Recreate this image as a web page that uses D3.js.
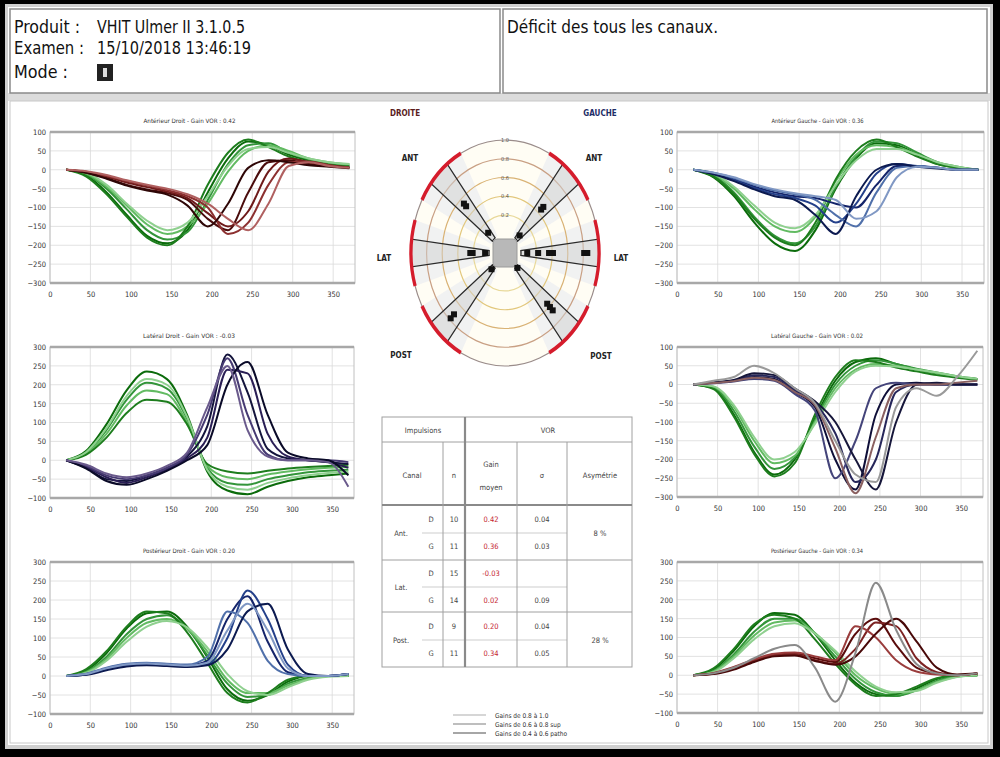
<!DOCTYPE html>
<html>
<head>
<meta charset="utf-8">
<title>vHIT Ulmer - rapport</title>
<script src="https://d3js.org/d3.v7.min.js"></script>
<style>
  body { margin: 0; background: #000; }
  svg { display: block; }
  text { font-family: "Liberation Sans Narrow", "DejaVu Sans Condensed", "Liberation Sans", sans-serif; }
</style>
</head>
<body>
<div id="chart"></div>
<script>
const headerLabels = ["Produit :", "Examen :", "Mode :"];
const headerValues = ["VHIT Ulmer II 3.1.0.5", "15/10/2018 13:46:19", ""];
const conclusion = "Déficit des tous les canaux.";

const chartTitles = [
  "Antérieur Droit - Gain VOR : 0.42", "Latéral Droit - Gain VOR : -0.03", "Postérieur Droit - Gain VOR : 0.20",
  "Antérieur Gauche - Gain VOR : 0.36", "Latéral Gauche - Gain VOR : 0.02", "Postérieur Gauche - Gain VOR : 0.34"
];

const timeMs = [20, 45, 70, 95, 120, 145, 170, 195, 220, 245, 270, 295, 320, 345, 370];
const xTicks = [0, 50, 100, 150, 200, 250, 300, 350];
const yTicksNeg = [100, 50, 0, -50, -100, -150, -200, -250, -300];
const yTicksPos = [300, 250, 200, 150, 100, 50, 0, -50, -100];

// head velocity (green) and eye velocity traces, deg/s
const antDroitHead = [
  [0, -15, -60, -120, -175, -195, -160, -60, 30, 75, 65, 40, 25, 15, 10],
  [0, -12, -50, -105, -160, -185, -165, -80, 15, 65, 70, 45, 28, 18, 12],
  [0, -10, -45, -95, -145, -170, -150, -90, -5, 50, 65, 50, 30, 20, 15],
  [0, -18, -65, -125, -180, -200, -150, -40, 45, 80, 60, 35, 20, 12, 8],
  [0, -8, -40, -90, -135, -160, -140, -70, 10, 55, 60, 45, 30, 20, 15]
];
const antDroitEye = [
  [0, -8, -22, -40, -52, -62, -80, -130, -160, -60, 20, 25, 15, 10, 5],
  [0, -6, -18, -34, -46, -58, -75, -115, -150, -110, -5, 30, 20, 12, 6],
  [0, -5, -16, -30, -42, -54, -70, -100, -170, -140, -40, 20, 22, 12, 5],
  [0, -8, -24, -42, -55, -66, -95, -150, -90, 5, 25, 20, 12, 8, 4],
  [0, -4, -14, -28, -40, -50, -65, -90, -130, -160, -90, 10, 20, 10, 5]
];
const latDroitHead = [
  [0, 25, 95, 185, 235, 215, 120, -30, -80, -90, -70, -55, -45, -40, -35],
  [0, 20, 80, 160, 205, 190, 110, -20, -60, -65, -50, -40, -32, -28, -25],
  [0, 18, 70, 145, 185, 175, 100, -15, -45, -50, -38, -30, -24, -20, -18],
  [0, 15, 60, 125, 160, 155, 95, -10, -30, -35, -28, -22, -18, -15, -12],
  [0, 22, 85, 170, 215, 200, 115, -25, -70, -78, -60, -48, -40, -34, -30]
];
const latDroitEye = [
  [0, -20, -50, -55, -40, -20, 10, 90, 280, 180, 30, 5, 0, -5, -10],
  [0, -18, -45, -60, -45, -25, 5, 60, 240, 230, 70, 10, 0, -5, -20],
  [0, -15, -40, -50, -40, -20, 15, 120, 270, 120, 15, 0, 0, 0, -5],
  [0, -22, -55, -65, -50, -28, 0, 40, 200, 260, 120, 20, 5, 0, -40],
  [0, -12, -35, -45, -35, -15, 20, 140, 250, 80, 10, 0, 0, -5, -70]
];
const postDroitHead = [
  [0, 15, 60, 125, 165, 170, 130, 50, -35, -65, -50, -15, 0, 0, 0],
  [0, 12, 50, 110, 150, 160, 125, 55, -20, -55, -50, -20, -5, 0, 0],
  [0, 10, 45, 100, 140, 150, 125, 65, -10, -45, -45, -25, -8, 0, 0],
  [0, 18, 65, 130, 170, 165, 115, 35, -45, -70, -45, -10, 0, 0, 0],
  [0, 8, 40, 90, 130, 145, 128, 75, 5, -40, -50, -30, -10, -2, 0]
];
const postDroitEye = [
  [0, 5, 20, 30, 32, 30, 28, 40, 150, 210, 90, 10, 0, 0, 5],
  [0, 4, 18, 28, 30, 28, 25, 30, 100, 225, 150, 30, 0, 0, 5],
  [0, 6, 22, 32, 35, 32, 30, 50, 170, 140, 40, 5, 0, 0, 5],
  [0, 3, 15, 25, 28, 26, 24, 28, 70, 170, 190, 70, 5, 0, 5],
  [0, 5, 20, 30, 33, 30, 27, 35, 120, 190, 120, 20, 0, 0, 5]
];
const antGaucheHead = [
  [0, -20, -70, -140, -195, -215, -160, -50, 30, 70, 65, 40, 15, 5, 0],
  [0, -15, -60, -125, -175, -195, -150, -45, 35, 75, 70, 45, 20, 8, 0],
  [0, -12, -50, -105, -150, -165, -125, -30, 40, 65, 60, 40, 18, 6, 0],
  [0, -18, -65, -130, -180, -200, -140, -25, 50, 80, 60, 35, 15, 5, 0],
  [0, -10, -45, -95, -140, -155, -120, -40, 25, 55, 55, 40, 20, 8, 0]
];
const antGaucheEye = [
  [0, -10, -25, -45, -60, -70, -75, -90, -100, -40, 10, 10, 5, 0, 0],
  [0, -10, -28, -48, -65, -75, -95, -140, -90, -10, 15, 10, 5, 0, 0],
  [0, -8, -22, -40, -55, -65, -80, -120, -150, -60, 5, 10, 5, 0, 0],
  [0, -12, -30, -52, -70, -80, -120, -170, -70, 0, 15, 8, 3, 0, 0],
  [0, -8, -20, -38, -52, -62, -70, -80, -130, -110, -20, 8, 5, 0, 0]
];
const latGaucheHead = [
  [0, -10, -80, -180, -240, -200, -90, 10, 60, 70, 55, 40, 30, 20, 15],
  [0, -8, -70, -165, -225, -195, -95, 0, 50, 65, 55, 42, 32, 22, 15],
  [0, -6, -60, -150, -210, -190, -100, -10, 40, 55, 50, 40, 30, 20, 15],
  [0, -12, -85, -185, -245, -210, -80, 20, 65, 60, 45, 35, 25, 18, 12],
  [0, -5, -55, -140, -200, -180, -105, -20, 35, 50, 48, 40, 32, 22, 15]
];
const latGaucheEye = [
  [0, 5, 10, 20, 15, -20, -60, -200, -280, -80, 0, 5, 0, 0, 0],
  [0, 5, 10, 25, 20, -15, -50, -130, -260, -200, -20, 0, 0, 0, 0],
  [0, 3, 8, 15, 10, -25, -70, -250, -150, -10, 5, 0, 0, 0, 0],
  [0, 5, 12, 30, 25, -10, -45, -100, -200, -280, -100, 0, 5, 0, 0],
  [0, 4, 9, 18, 12, -20, -55, -170, -290, -140, -10, 0, 0, 5, 10],
  [0, 10, 20, 50, 30, -10, -50, -150, -240, -260, -60, -10, -30, 20, 90]
];
const postGaucheHead = [
  [0, 15, 65, 130, 165, 160, 110, 40, -20, -50, -55, -35, -10, 0, 0],
  [0, 12, 55, 115, 150, 150, 110, 50, -10, -45, -55, -40, -15, -2, 0],
  [0, 10, 50, 105, 140, 145, 112, 60, 0, -35, -50, -40, -18, -4, 0],
  [0, 18, 70, 135, 160, 150, 95, 30, -25, -55, -50, -30, -8, 0, 0],
  [0, 8, 45, 95, 130, 138, 110, 65, 10, -30, -45, -42, -20, -5, 0]
];
const postGaucheEye = [
  [0, 5, 20, 40, 55, 58, 45, 35, 110, 150, 80, 20, 5, 0, 5],
  [0, 4, 18, 38, 52, 55, 40, 30, 70, 140, 130, 45, 8, 0, 5],
  [0, 6, 22, 42, 57, 60, 50, 40, 130, 100, 40, 10, 2, 0, 5],
  [0, 3, 15, 35, 50, 52, 38, 28, 50, 110, 150, 90, 20, 2, 5],
  [0, 5, 20, 45, 70, 80, 20, -70, 60, 245, 120, 30, 5, 0, 5]
];

// polar plot
const polarRingGains = [1.0, 0.8, 0.6, 0.4, 0.2];
const polarRingLabels = ["1.0", "0.8", "0.6", "0.4", "0.2"];
const polarCanals = ["ANT", "LAT", "POST", "ANT", "LAT", "POST"];
const polarSides = ["D", "D", "D", "G", "G", "G"];
const impulseGains = [
  [0.54, 0.50, 0.10],
  [0.24, 0.21, 0.05],
  [0.78, 0.72, 0.04],
  [0.49, 0.45, 0.06],
  [0.08, 0.22, 0.36, 0.41, 0.81, 0.85],
  [0.66, 0.61, 0.56, 0.02]
];

// table
const tableCanals = ["Ant.", "Lat.", "Post."];
const tableSides = ["D", "G", "D", "G", "D", "G"];
const tableN = ["10", "11", "15", "14", "9", "11"];
const tableGain = ["0.42", "0.36", "-0.03", "0.02", "0.20", "0.34"];
const tableSigma = ["0.04", "0.03", "", "0.09", "0.04", "0.05"];
const tableAsym = ["8 %", "", "28 %"];

const legendLabels = ["Gains de 0.8 à 1.0", "Gains de 0.6 à 0.8 sup", "Gains de 0.4 à 0.6 patho"];

// ---- colours ----
const greenShades = ["#0b6b0b", "#33953a", "#62bb62", "#1d7d1d", "#8fd08f"];
const brownShades = ["#4a0c0c", "#6e1a1a", "#8c3030", "#2e0606", "#b06060"];
const purpleShades = ["#14143c", "#2a1e55", "#463a72", "#0a0a28", "#6a5a8c"];
const blueShades = ["#14246a", "#24408a", "#5070aa", "#0c1a50", "#8098c4"];
const navyShades = ["#0e0e38", "#26265a", "#44447a", "#16163a", "#8a6060", "#9a9a9a"];
const redShades = ["#5a0c0c", "#7c2222", "#9a3c3c", "#480808", "#8a8a8a"];

const svg = d3.select("#chart").append("svg").attr("width", 1000).attr("height", 757);

// page frame
svg.append("rect").attr("width", 1000).attr("height", 757).attr("fill", "#000");
svg.append("rect").attr("x", 5).attr("y", 4).attr("width", 988).attr("height", 745).attr("fill", "#cfcfcf");
svg.append("rect").attr("x", 8).attr("y", 7).attr("width", 982).attr("height", 738).attr("fill", "#fff");

// header
svg.append("rect").attr("x", 8).attr("y", 93).attr("width", 982).attr("height", 8).attr("fill", "#dcdcdc");
[[10, 490], [503, 484]].forEach(([bx, bw]) => {
  svg.append("rect").attr("x", bx).attr("y", 9).attr("width", bw).attr("height", 84)
    .attr("fill", "#fff").attr("stroke", "#8a8a8a").attr("stroke-width", 1.5);
});
const labelW = [66, 70, 54], valueW = [148, 154, 0], baseY = [33, 54, 78];
headerLabels.forEach((t, i) => {
  svg.append("text").attr("x", 14).attr("y", baseY[i]).attr("font-size", 17).attr("fill", "#111")
    .attr("textLength", labelW[i]).attr("lengthAdjust", "spacingAndGlyphs").text(t);
  if (headerValues[i]) {
    svg.append("text").attr("x", 97).attr("y", baseY[i]).attr("font-size", 17).attr("fill", "#111")
      .attr("textLength", valueW[i]).attr("lengthAdjust", "spacingAndGlyphs").text(headerValues[i]);
  }
});
svg.append("rect").attr("x", 97).attr("y", 64).attr("width", 16).attr("height", 17).attr("fill", "#222");
svg.append("rect").attr("x", 103).attr("y", 68).attr("width", 4).attr("height", 9).attr("fill", "#ddd");
svg.append("text").attr("x", 507).attr("y", 33).attr("font-size", 17).attr("fill", "#111")
  .attr("textLength", 211).attr("lengthAdjust", "spacingAndGlyphs").text(conclusion);

// main panel
svg.append("rect").attr("x", 10).attr("y", 101).attr("width", 978).attr("height", 642)
  .attr("fill", "#fff").attr("stroke", "#c8c8c8");

// ---- the six velocity charts ----
const xMax = 377;
const panels = [
  { head: antDroitHead, eye: antDroitEye, colors: brownShades, ticks: yTicksNeg, x: 50, y: 132, w: 305, h: 151 },
  { head: latDroitHead, eye: latDroitEye, colors: purpleShades, ticks: yTicksPos, x: 50, y: 347, w: 304, h: 151 },
  { head: postDroitHead, eye: postDroitEye, colors: blueShades, ticks: yTicksPos, x: 50, y: 562, w: 304, h: 152 },
  { head: antGaucheHead, eye: antGaucheEye, colors: blueShades, ticks: yTicksNeg, x: 677, y: 132, w: 307, h: 151 },
  { head: latGaucheHead, eye: latGaucheEye, colors: navyShades, ticks: yTicksNeg, x: 677, y: 347, w: 306, h: 150 },
  { head: postGaucheHead, eye: postGaucheEye, colors: redShades, ticks: yTicksPos, x: 677, y: 562, w: 306, h: 151 }
];

panels.forEach((p, k) => {
  const g = svg.append("g").attr("transform", `translate(${p.x},${p.y})`);
  const x = d3.scaleLinear().domain([0, xMax]).range([0, p.w]);
  const y = d3.scaleLinear().domain([d3.min(p.ticks), d3.max(p.ticks)]).range([p.h, 0]);

  g.append("rect").attr("width", p.w).attr("height", p.h).attr("fill", "#fff");

  // grid
  g.append("g").selectAll("line").data(xTicks).join("line")
    .attr("x1", d => x(d)).attr("x2", d => x(d)).attr("y1", 0).attr("y2", p.h)
    .attr("stroke", "#dadada").attr("stroke-width", 0.8);
  g.append("g").selectAll("line").data(p.ticks).join("line")
    .attr("x1", 0).attr("x2", p.w).attr("y1", d => y(d)).attr("y2", d => y(d))
    .attr("stroke", "#dadada").attr("stroke-width", 0.8);

  // axes
  const ax = g.append("g").attr("transform", `translate(0,${p.h})`)
    .call(d3.axisBottom(x).tickValues(xTicks).tickSize(0).tickPadding(9));
  const ay = g.append("g").call(d3.axisLeft(y).tickValues(p.ticks).tickSize(0).tickPadding(4));
  [ax, ay].forEach(a => {
    a.select(".domain").remove();
    a.attr("font-family", "'Liberation Sans Narrow', 'DejaVu Sans Condensed', sans-serif");
    a.selectAll("text").attr("font-size", 7.5).attr("fill", "#333");
  });

  // traces
  g.append("clipPath").attr("id", "clip" + k)
    .append("rect").attr("width", p.w).attr("height", p.h);
  const line = d3.line().x((d, i) => x(timeMs[i])).y(d => y(d)).curve(d3.curveMonotoneX);
  const traces = g.append("g").attr("clip-path", `url(#clip${k})`);
  traces.selectAll("path.head").data(p.head).join("path").attr("class", "head")
    .attr("d", line).attr("fill", "none")
    .attr("stroke", (d, i) => greenShades[i]).attr("stroke-width", 2);
  traces.selectAll("path.eye").data(p.eye).join("path").attr("class", "eye")
    .attr("d", line).attr("fill", "none")
    .attr("stroke", (d, i) => p.colors[i]).attr("stroke-width", 2);

  // frame
  g.append("rect").attr("width", p.w).attr("height", p.h)
    .attr("fill", "none").attr("stroke", "#c0c0c0").attr("stroke-width", 1);
  g.append("line").attr("x1", 0).attr("x2", p.w).attr("y1", 0).attr("y2", 0)
    .attr("stroke", "#a8a8a8").attr("stroke-width", 2.5);
  g.append("line").attr("x1", 0).attr("x2", p.w).attr("y1", p.h).attr("y2", p.h)
    .attr("stroke", "#a8a8a8").attr("stroke-width", 2.5);

  g.append("text").attr("x", p.w / 2 - 13).attr("y", -9).attr("text-anchor", "middle")
    .attr("font-size", 6).attr("fill", "#333").attr("textLength", 92).attr("lengthAdjust", "spacingAndGlyphs")
    .text(chartTitles[k]);
});

// ---- polar gain plot ----
const pc = { x: 505, y: 253, rx: 94, ry: 113 };
const rScale = d3.scaleLinear().domain([0, 1]).range([0.17 * pc.ry, pc.ry]);
const sx = pc.rx / pc.ry;
const deg = Math.PI / 180;
const canalAngle = [-45, -90, -135, 45, 90, 135].map(a => a * deg);
const ringColors = ["#9a8c8a", "#c9a084", "#d9b274", "#e2c77c", "#e8d898"];

const pg = svg.append("g").attr("transform", `translate(${pc.x},${pc.y}) scale(${sx},1)`);
pg.append("ellipse").attr("rx", rScale(1)).attr("ry", rScale(1)).attr("fill", "#fffdf4");

// light sectors around each canal, then rings and canal wedges
const broad = d3.arc().innerRadius(rScale(0)).outerRadius(rScale(1));
pg.selectAll("path.broad").data(canalAngle).join("path").attr("class", "broad")
  .attr("d", a => broad({ startAngle: a - 17 * deg, endAngle: a + 17 * deg }))
  .attr("fill", "#eceef2").attr("opacity", 0.75);

pg.selectAll("circle.ring").data(polarRingGains).join("circle").attr("class", "ring")
  .attr("r", d => rScale(d)).attr("fill", "none")
  .attr("stroke", (d, i) => ringColors[i]).attr("stroke-width", 1.2)
  .attr("vector-effect", "non-scaling-stroke");

const wedge = d3.arc().innerRadius(rScale(0)).outerRadius(rScale(1));
pg.selectAll("path.wedge").data(canalAngle).join("path").attr("class", "wedge")
  .attr("d", a => wedge({ startAngle: a - 7 * deg, endAngle: a + 7 * deg }))
  .attr("fill", "#d0d0d0").attr("fill-opacity", 0.5)
  .attr("stroke", "#2a2a2a").attr("stroke-width", 1.3)
  .attr("vector-effect", "non-scaling-stroke");

const redArc = d3.arc().innerRadius(rScale(1) - 2).outerRadius(rScale(1) + 2);
pg.selectAll("path.red").data(canalAngle).join("path").attr("class", "red")
  .attr("d", a => redArc({ startAngle: a - 17 * deg, endAngle: a + 17 * deg }))
  .attr("fill", "#d51c2c");

// centre block
svg.append("rect").attr("x", pc.x - 12).attr("y", pc.y - 14).attr("width", 24).attr("height", 28)
  .attr("rx", 4).attr("fill", "#b8b8b8").attr("stroke", "#9a9a9a");

// individual impulses
impulseGains.forEach((gains, c) => {
  const a = canalAngle[c];
  svg.append("g").selectAll("rect").data(gains).join("rect")
    .attr("x", d => pc.x + Math.sin(a) * rScale(d) * sx - 3)
    .attr("y", d => pc.y - Math.cos(a) * rScale(d) - 3)
    .attr("width", 6).attr("height", 6).attr("fill", "#111");
});

// ring labels
svg.append("g").selectAll("text").data(polarRingGains).join("text")
  .attr("x", pc.x).attr("y", d => pc.y - rScale(d) + 2)
  .attr("text-anchor", "middle").attr("font-size", 5.5).attr("fill", "#555")
  .text((d, i) => polarRingLabels[i]);

// side and canal labels
svg.append("text").attr("x", 405).attr("y", 116).attr("text-anchor", "middle")
  .attr("font-size", 8).attr("font-weight", "bold").attr("fill", "#5a1c1c").text("DROITE");
svg.append("text").attr("x", 600).attr("y", 116).attr("text-anchor", "middle")
  .attr("font-size", 8).attr("font-weight", "bold").attr("fill", "#1c2c66").text("GAUCHE");
const canalLabelPos = [[410, 161], [384, 261], [401, 358], [594, 161], [621, 261], [601, 359]];
polarCanals.forEach((t, i) => {
  svg.append("text").attr("x", canalLabelPos[i][0]).attr("y", canalLabelPos[i][1])
    .attr("text-anchor", "middle").attr("font-size", 8).attr("font-weight", "bold")
    .attr("fill", "#222").text(t);
});

// ---- summary table ----
const tb = svg.append("g");
const tLine = (x1, y1, x2, y2, w, c) => tb.append("line")
  .attr("x1", x1).attr("y1", y1).attr("x2", x2).attr("y2", y2)
  .attr("stroke", c || "#a0a0a0").attr("stroke-width", w || 1);
tb.append("rect").attr("x", 382).attr("y", 417).attr("width", 250).attr("height", 250)
  .attr("fill", "#fff").attr("stroke", "#a0a0a0");
tLine(382, 442, 632, 442);
tLine(382, 505, 632, 505, 2.2, "#8a8a8a");
tLine(382, 560, 632, 560);
tLine(382, 612, 632, 612);
[533, 587, 640].forEach(yy => tLine(422, yy, 567, yy, 0.8, "#c0c0c0"));
tLine(443, 442, 443, 667);
tLine(465, 417, 465, 667, 2.2, "#8a8a8a");
tLine(517, 442, 517, 667);
tLine(567, 442, 567, 667);

const tText = (x, y, t, c) => tb.append("text").attr("x", x).attr("y", y)
  .attr("text-anchor", "middle").attr("font-size", 7.5).attr("fill", c || "#444").text(t);
tText(423, 433, "Impulsions");
tText(548, 433, "VOR");
tText(412, 478, "Canal");
tText(454, 478, "n");
tText(491, 467, "Gain");
tText(491, 490, "moyen");
tText(542, 478, "σ");
tText(600, 478, "Asymétrie");
const rowY = [522, 549, 576, 603, 629, 656];
tableSides.forEach((s, i) => {
  tText(431, rowY[i], s);
  tText(454, rowY[i], tableN[i]);
  tText(491, rowY[i], tableGain[i], "#c41e30");
  tText(542, rowY[i], tableSigma[i]);
});
tableCanals.forEach((c, j) => {
  const ym = (rowY[2 * j] + rowY[2 * j + 1]) / 2;
  tText(401, ym, c);
  tText(600, ym, tableAsym[j]);
});

// ---- legend ----
const legendColors = ["#c8c8c8", "#a8a8a8", "#888"];
legendLabels.forEach((t, i) => {
  const ly = 715 + i * 9;
  svg.append("line").attr("x1", 453).attr("x2", 486).attr("y1", ly).attr("y2", ly)
    .attr("stroke", legendColors[i]).attr("stroke-width", 1.5);
  svg.append("text").attr("x", 495).attr("y", ly + 2.5).attr("font-size", 6.5)
    .attr("fill", "#333").text(t);
});
</script>
</body>
</html>
